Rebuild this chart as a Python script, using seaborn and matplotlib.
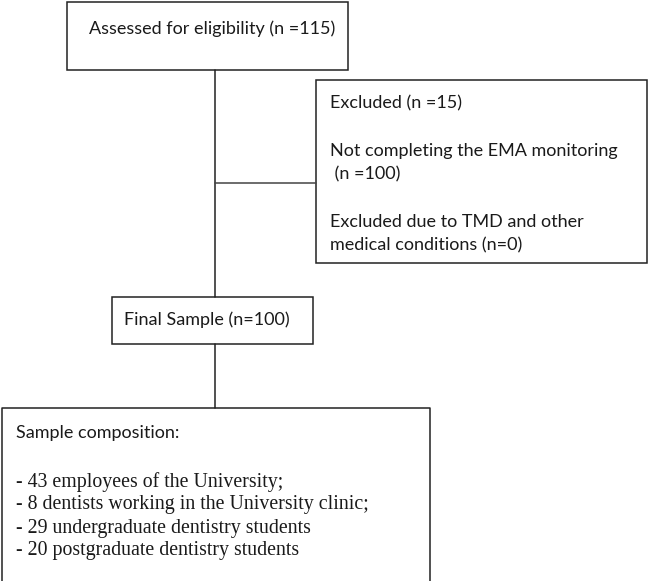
import matplotlib.pyplot as plt
import seaborn as sns
from matplotlib.patches import Rectangle

# Texts of the flow diagram
assessed_text = "Assessed for eligibility (n =115)"
excluded_lines = [
    "Excluded (n =15)",
    "",
    "Not completing the EMA monitoring",
    " (n =100)",
    "",
    "Excluded due to TMD and other",
    "medical conditions (n=0)",
]
final_text = "Final Sample (n=100)"
composition_title = "Sample composition:"
composition_items = [
    "- 43 employees of the University;",
    "- 8 dentists working in the University clinic;",
    "- 29 undergraduate dentistry students",
    "- 20 postgraduate dentistry students",
]

sns.set_theme(style="white")
plt.rcParams["font.family"] = ["Lato", "DejaVu Sans"]

fig = plt.figure(figsize=(6.54, 5.81), dpi=100)
ax = fig.add_axes([0, 0, 1, 1])
ax.set_xlim(0, 654)
ax.set_ylim(581, 0)
ax.axis("off")

lc = "#222222"
lw = 1.1
sans = 13
serif = 14.3
tc = "#1a1a1a"

def box(x0, y0, x1, y1):
    ax.add_patch(Rectangle((x0, y0), x1 - x0, y1 - y0, fill=False, ec=lc, lw=lw))

# boxes
box(67, 2, 348, 70)
box(316, 80, 647, 263)
box(112, 297, 313, 344)
# last box runs off the bottom edge
ax.plot([2, 2, 430, 430], [590, 408, 408, 590], color=lc, lw=lw)

# connectors
ax.plot([215, 215], [70, 297], color=lc, lw=lw)
ax.plot([215, 316], [183, 183], color="#444444", lw=lw)
ax.plot([215, 215], [344, 408], color=lc, lw=lw)

# text
ax.text(89, 29, assessed_text, fontsize=sans, va="center", ha="left", color=tc)
y = 103
for line in excluded_lines:
    if line:
        ax.text(330, y, line, fontsize=sans, va="center", ha="left", color=tc)
    y += 23.8
ax.text(124, 320, final_text, fontsize=sans, va="center", ha="left", color=tc)
ax.text(16, 433, composition_title, fontsize=sans, va="center", ha="left", color=tc)
y = 482
for item in composition_items:
    ax.text(16, y, item, fontsize=serif, va="center", ha="left", color=tc,
            family=["Liberation Serif", "DejaVu Serif"])
    y += 23

fig.savefig("out.png", dpi=100, facecolor="white")
